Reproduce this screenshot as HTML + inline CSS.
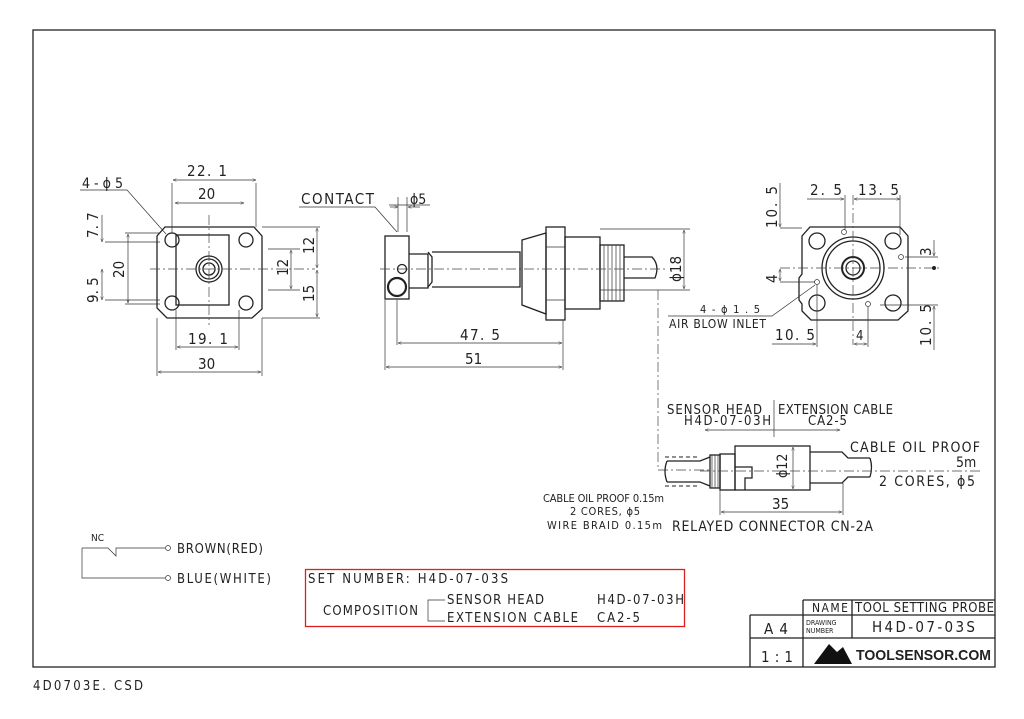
<!DOCTYPE html>
<html><head><meta charset="utf-8"><style>
html,body{margin:0;padding:0;background:#fff}
svg{display:block}
text{font-family:"DejaVu Sans Condensed","Liberation Sans Narrow","Liberation Sans",sans-serif;fill:#222}
.l{stroke:#222;stroke-width:1.3;fill:none}
.t{stroke:#333;stroke-width:0.7;fill:none}
.c{stroke:#444;stroke-width:0.7;fill:none;stroke-dasharray:10 3 2 3}
.h{stroke:#222;stroke-width:1;fill:none;stroke-dasharray:4 3}
</style></head><body>
<svg width="1024" height="719" viewBox="0 0 1024 719" xmlns="http://www.w3.org/2000/svg">
<defs><marker id="a" viewBox="0 0 10 10" refX="10" refY="5" markerWidth="7" markerHeight="5" orient="auto-start-reverse"><path d="M0,1L10,5L0,9" fill="none" stroke="#333" stroke-width="1.2"/></marker></defs>
<rect x="33" y="30" width="962" height="637" class="l"/>

<!-- LEFT VIEW -->
<path d="M165,227H254L262,236V309L252,318H167L157,308V236Z" class="l"/>
<rect x="176" y="235" width="53" height="70" class="l"/>
<circle cx="172" cy="240" r="7" class="l"/><circle cx="246" cy="240" r="7" class="l"/>
<circle cx="172" cy="303" r="7" class="l"/><circle cx="246" cy="303" r="7" class="l"/>
<circle cx="209" cy="269" r="13" class="l"/><circle cx="209" cy="269" r="10" class="l"/><circle cx="209" cy="269" r="6" class="l"/>
<line x1="150" y1="269" x2="315" y2="269" class="c"/><line x1="209" y1="215" x2="209" y2="325" class="c"/>
<line x1="172" y1="183" x2="172" y2="233" class="t"/><line x1="256" y1="183" x2="256" y2="227" class="t"/>
<line x1="173" y1="180" x2="256" y2="180" class="t" marker-start="url(#a)" marker-end="url(#a)"/>
<text x="187" y="176" font-size="15" textLength="40" lengthAdjust="spacing">22. 1</text>
<line x1="175" y1="203" x2="244" y2="203" class="t" marker-start="url(#a)" marker-end="url(#a)"/>
<text x="198" y="199" font-size="15">20</text>
<text x="82" y="188" font-size="14" textLength="41" lengthAdjust="spacing">4-ϕ5</text>
<path d="M80,190H127L166,234" class="t"/>
<line x1="105" y1="242" x2="160" y2="242" class="t"/><line x1="105" y1="300" x2="160" y2="300" class="t"/><line x1="125" y1="233" x2="160" y2="233" class="t"/><line x1="125" y1="304" x2="160" y2="304" class="t"/>
<line x1="102" y1="215" x2="102" y2="242" class="t" marker-end="url(#a)"/>
<line x1="102" y1="269" x2="102" y2="300" class="t" marker-start="url(#a)" marker-end="url(#a)"/>
<line x1="128" y1="234" x2="128" y2="303" class="t" marker-start="url(#a)" marker-end="url(#a)"/>
<text font-size="15" transform="translate(98,238) rotate(-90)">7. 7</text>
<text font-size="15" transform="translate(98,303) rotate(-90)">9. 5</text>
<text font-size="15" transform="translate(124,278) rotate(-90)">20</text>
<line x1="262" y1="227" x2="320" y2="227" class="t"/><line x1="262" y1="318" x2="320" y2="318" class="t"/><line x1="268" y1="249" x2="300" y2="249" class="t"/><line x1="268" y1="290" x2="300" y2="290" class="t"/>
<line x1="317" y1="228" x2="317" y2="268" class="t" marker-start="url(#a)" marker-end="url(#a)"/>
<line x1="317" y1="270" x2="317" y2="317" class="t" marker-start="url(#a)" marker-end="url(#a)"/>
<line x1="291" y1="250" x2="291" y2="289" class="t" marker-start="url(#a)" marker-end="url(#a)"/>
<text font-size="15" transform="translate(314,254) rotate(-90)">12</text>
<text font-size="15" transform="translate(288,276) rotate(-90)">12</text>
<text font-size="15" transform="translate(314,302) rotate(-90)">15</text>
<line x1="176" y1="310" x2="176" y2="350" class="t"/><line x1="239" y1="310" x2="239" y2="350" class="t"/>
<line x1="177" y1="347" x2="238" y2="347" class="t" marker-start="url(#a)" marker-end="url(#a)"/>
<text x="188" y="344" font-size="15" textLength="40" lengthAdjust="spacing">19. 1</text>
<line x1="157" y1="318" x2="157" y2="376" class="t"/><line x1="262" y1="318" x2="262" y2="376" class="t"/>
<line x1="158" y1="372" x2="261" y2="372" class="t" marker-start="url(#a)" marker-end="url(#a)"/>
<text x="198" y="369" font-size="15">30</text>

<!-- MIDDLE VIEW -->
<text x="301" y="204" font-size="15" textLength="73" lengthAdjust="spacing">CONTACT</text>
<path d="M299,207H375L397,232" class="t"/>
<text x="410" y="204" font-size="14">ϕ5</text>
<line x1="389" y1="205" x2="430" y2="205" class="t"/>
<line x1="390" y1="207" x2="398" y2="207" class="t" marker-end="url(#a)"/><line x1="420" y1="207" x2="408" y2="207" class="t" marker-end="url(#a)"/>
<line x1="398" y1="197" x2="398" y2="232" class="t"/><line x1="407" y1="197" x2="407" y2="232" class="t"/>
<rect x="385" y="236" width="24" height="63" class="l"/>
<circle cx="402" cy="269" r="4.5" class="l"/><circle cx="397" cy="287" r="9" stroke="#222" stroke-width="2.2" fill="none"/>
<path d="M409,254H428V288H409" class="l"/>
<path d="M428,252L432,257V282L428,287M432,252H520V287H432" class="l"/>
<path d="M522,240L546,233V314L522,305Z" class="l"/>
<rect x="546" y="227" width="19" height="93" class="l"/>
<line x1="546" y1="247" x2="565" y2="247" class="t"/><line x1="546" y1="300" x2="565" y2="300" class="t"/>
<rect x="565" y="237" width="35" height="72" class="l"/>
<rect x="600" y="245" width="24" height="56" class="l"/>
<path d="M604,245V301M608,245V301M612,245V301M616,245V301M620,245V301" class="t"/>
<path d="M624,257H652Q660,265 655,278H624" class="l"/>
<line x1="380" y1="269" x2="665" y2="269" class="c"/>
<line x1="397" y1="300" x2="397" y2="345" class="t"/><line x1="385" y1="300" x2="385" y2="370" class="t"/><line x1="563" y1="320" x2="563" y2="370" class="t"/>
<line x1="398" y1="343" x2="562" y2="343" class="t" marker-start="url(#a)" marker-end="url(#a)"/>
<text x="460" y="340" font-size="15" textLength="40" lengthAdjust="spacing">47. 5</text>
<line x1="386" y1="367" x2="562" y2="367" class="t" marker-start="url(#a)" marker-end="url(#a)"/>
<text x="465" y="364" font-size="15">51</text>
<line x1="600" y1="229" x2="690" y2="229" class="t"/><line x1="600" y1="290" x2="690" y2="290" class="t"/>
<line x1="684" y1="230" x2="684" y2="289" class="t" marker-start="url(#a)" marker-end="url(#a)"/>
<text font-size="15" transform="translate(681,282) rotate(-90)">ϕ18</text>
<path d="M658,290V470H710" class="c"/>

<!-- RIGHT VIEW -->
<path d="M810,227H900L908,236V311L898,320H811L802,311V304L799,300V278L802,274V236Z" class="l"/>
<circle cx="817" cy="241" r="8" class="l"/><circle cx="893" cy="241" r="8" class="l"/><circle cx="817" cy="303" r="8" class="l"/><circle cx="893" cy="303" r="8" class="l"/>
<circle cx="853" cy="268" r="31" class="l"/><circle cx="853" cy="268" r="27" class="l"/><circle cx="853" cy="268" r="11" stroke="#222" stroke-width="2" fill="none"/><circle cx="853" cy="268" r="7" class="l"/>
<circle cx="844" cy="232" r="2.5" class="t"/><circle cx="901" cy="257" r="2.5" class="t"/><circle cx="817" cy="282" r="2.5" class="t"/><circle cx="868" cy="304" r="2.5" class="t"/>
<line x1="780" y1="268" x2="940" y2="268" class="c"/><line x1="853" y1="195" x2="853" y2="345" class="c"/>
<circle cx="934" cy="268" r="2" fill="#222"/>
<line x1="780" y1="228" x2="802" y2="228" class="t"/><line x1="780" y1="282" x2="815" y2="282" class="t"/>
<line x1="780" y1="183" x2="780" y2="227" class="t" marker-end="url(#a)"/>
<line x1="780" y1="269" x2="780" y2="281" class="t" marker-start="url(#a)" marker-end="url(#a)"/>
<text font-size="15" transform="translate(777,228) rotate(-90)" textLength="42" lengthAdjust="spacing">10. 5</text>
<text font-size="15" transform="translate(777,283) rotate(-90)">4</text>
<line x1="845" y1="195" x2="845" y2="230" class="t"/><line x1="900" y1="195" x2="900" y2="235" class="t"/>
<line x1="807" y1="199" x2="844" y2="199" class="t" marker-end="url(#a)"/>
<line x1="854" y1="199" x2="900" y2="199" class="t" marker-start="url(#a)" marker-end="url(#a)"/>
<text x="810" y="195" font-size="15" textLength="32" lengthAdjust="spacing">2. 5</text><text x="858" y="195" font-size="15" textLength="41" lengthAdjust="spacing">13. 5</text>
<line x1="905" y1="257" x2="938" y2="257" class="t"/><line x1="880" y1="305" x2="938" y2="305" class="t"/>
<line x1="934" y1="240" x2="934" y2="256" class="t" marker-end="url(#a)"/>
<line x1="934" y1="350" x2="934" y2="306" class="t" marker-end="url(#a)"/>
<text font-size="15" transform="translate(931,256) rotate(-90)">3</text>
<text font-size="15" transform="translate(931,346) rotate(-90)" textLength="42" lengthAdjust="spacing">10. 5</text>
<line x1="817" y1="285" x2="817" y2="347" class="t"/><line x1="868" y1="307" x2="868" y2="347" class="t"/>
<line x1="772" y1="344" x2="816" y2="344" class="t" marker-end="url(#a)"/>
<line x1="854" y1="344" x2="867" y2="344" class="t" marker-start="url(#a)" marker-end="url(#a)"/>
<text x="775" y="340" font-size="15" textLength="40" lengthAdjust="spacing">10. 5</text><text x="856" y="340" font-size="13">4</text>
<text x="700" y="313" font-size="11" textLength="60" lengthAdjust="spacing">4-ϕ1.5</text>
<text x="669" y="328" font-size="12" textLength="97" lengthAdjust="spacing">AIR BLOW INLET</text>
<path d="M668,316H772L815,285" class="t"/>

<!-- CONNECTOR -->
<text x="667" y="414" font-size="13" textLength="95" lengthAdjust="spacing">SENSOR HEAD</text><text x="684" y="425" font-size="13" textLength="87" lengthAdjust="spacing">H4D-07-03H</text>
<text x="778" y="414" font-size="13" textLength="115" lengthAdjust="spacing">EXTENSION CABLE</text><text x="808" y="425" font-size="13" textLength="39" lengthAdjust="spacing">CA2-5</text>
<line x1="774" y1="400" x2="774" y2="437" class="t"/>
<line x1="705" y1="430" x2="840" y2="430" class="t" marker-start="url(#a)" marker-end="url(#a)"/>
<path d="M667,461H700L710,457M667,482H700L710,486" class="l"/>
<path d="M667,461Q663,471 667,482" class="l"/>
<line x1="665" y1="457" x2="700" y2="457" class="h"/><line x1="665" y1="486" x2="700" y2="486" class="h"/>
<rect x="710" y="455" width="10" height="33" class="l"/>
<path d="M712,455V488M715,455V488M718,455V488" class="t"/>
<rect x="720" y="454" width="15" height="36" class="l"/>
<rect x="735" y="446" width="75" height="44" class="l"/>
<path d="M735,467H752V478H745V490" class="l"/>
<line x1="793" y1="447" x2="793" y2="489" class="t" marker-start="url(#a)" marker-end="url(#a)"/>
<text font-size="14" transform="translate(787,478) rotate(-90)">ϕ12</text>
<path d="M810,452H842L848,458H870M810,483H842L848,477H870M870,458Q873,467 870,477" class="l"/>
<line x1="700" y1="471" x2="980" y2="471" class="c"/>
<text x="850" y="452" font-size="14" textLength="130" lengthAdjust="spacing">CABLE OIL PROOF</text>
<text x="956" y="467" font-size="14">5m</text>
<text x="879" y="486" font-size="14" textLength="96" lengthAdjust="spacing">2 CORES,  ϕ5</text>
<line x1="720" y1="490" x2="720" y2="515" class="t"/><line x1="843" y1="483" x2="843" y2="515" class="t"/>
<line x1="721" y1="512" x2="842" y2="512" class="t" marker-start="url(#a)" marker-end="url(#a)"/>
<text x="772" y="509" font-size="15">35</text>
<text x="543" y="502" font-size="11" textLength="121" lengthAdjust="spacing">CABLE OIL PROOF 0.15m</text>
<text x="570" y="515" font-size="11" textLength="70" lengthAdjust="spacing">2 CORES, ϕ5</text>
<text x="547" y="529" font-size="11" textLength="115" lengthAdjust="spacing">WIRE BRAID 0.15m</text>
<text x="672" y="531" font-size="14" textLength="201" lengthAdjust="spacing">RELAYED CONNECTOR CN-2A</text>

<!-- WIRING -->
<text x="91" y="541" font-size="10">NC</text>
<path d="M82,548V578H165M82,548H108L116,556V548H165" class="t" stroke-width="1"/>
<circle cx="168" cy="548" r="2.5" class="t"/><circle cx="168" cy="578" r="2.5" class="t"/>
<text x="177" y="553" font-size="13" textLength="86" lengthAdjust="spacing">BROWN(RED)</text>
<text x="177" y="583" font-size="13" textLength="94" lengthAdjust="spacing">BLUE(WHITE)</text>

<rect x="305.5" y="569.5" width="379" height="57" fill="none" stroke="#e02020" stroke-width="1.3"/>
<text x="308" y="583" font-size="13" textLength="200" lengthAdjust="spacing">SET NUMBER:  H4D-07-03S</text>
<text x="323" y="615" font-size="13" textLength="95" lengthAdjust="spacing">COMPOSITION</text>
<path d="M445,600H428V621H445" class="t" stroke-width="1"/>
<text x="447" y="604" font-size="13" textLength="97" lengthAdjust="spacing">SENSOR HEAD</text><text x="597" y="604" font-size="13" textLength="87" lengthAdjust="spacing">H4D-07-03H</text>
<text x="447" y="622" font-size="13" textLength="131" lengthAdjust="spacing">EXTENSION CABLE</text><text x="597" y="622" font-size="13" textLength="43" lengthAdjust="spacing">CA2-5</text>

<!-- TITLE BLOCK -->
<path d="M803,600H995M750,615H995M750,638H995M750,667V615M803,600V667M852,600V638" class="l" stroke-width="1"/>
<text x="812" y="612" font-size="12" textLength="36" lengthAdjust="spacing">NAME</text>
<text x="855" y="612" font-size="13" textLength="139" lengthAdjust="spacing">TOOL SETTING PROBE</text>
<text x="806" y="625" font-size="7">DRAWING</text><text x="806" y="633" font-size="7">NUMBER</text>
<text x="872" y="632" font-size="15" textLength="103" lengthAdjust="spacing">H4D-07-03S</text>
<text x="764" y="634" font-size="15" textLength="24" lengthAdjust="spacing">A4</text>
<text x="761" y="662" font-size="15" textLength="32" lengthAdjust="spacing">1 : 1</text>
<path d="M814,664L829,644L837,652L843,647L852,664Z" fill="#111"/>
<text x="856" y="660" font-size="15" font-weight="bold" style="font-family:'Liberation Sans',sans-serif" textLength="135" lengthAdjust="spacingAndGlyphs">TOOLSENSOR.COM</text>
<text x="33" y="690" font-size="13" fill="#444" textLength="110" lengthAdjust="spacing">4D0703E. CSD</text>
</svg>
</body></html>
